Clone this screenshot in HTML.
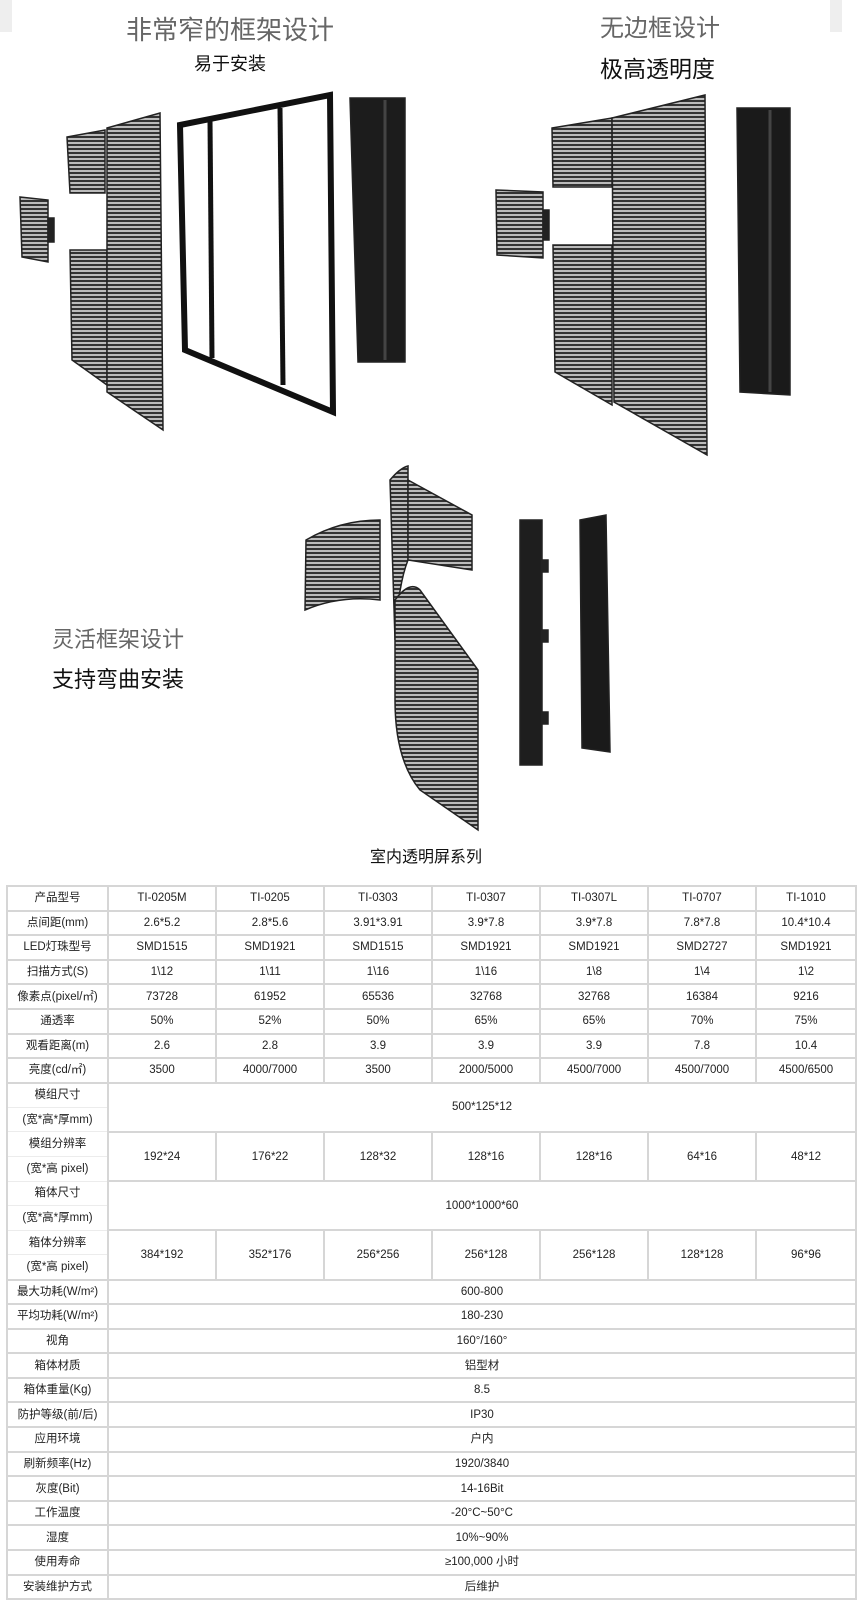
<!DOCTYPE html>
<html><head><meta charset="utf-8"><style>
body{margin:0;width:859px;height:1600px;background:#fff;position:relative;overflow:hidden;font-family:"Liberation Sans","Noto Sans CJK SC",sans-serif;}
.t{position:absolute;white-space:nowrap;}
table{position:absolute;left:6px;top:885px;border-collapse:collapse;table-layout:fixed;width:849px;font-size:11.5px;color:#222;}
tr{height:24.6px}
td{border:2px solid #d6d6d6;height:22.6px;padding:0;text-align:center;line-height:14px;box-sizing:border-box}
td.s{border-top:1px solid #ececec;border-bottom:1px solid #ececec}
</style></head><body>
<div class="t" style="left:0;top:0;width:12px;height:32px;background:#eee"></div>
<div class="t" style="left:830px;top:0;width:12px;height:32px;background:#eee"></div>
<div class="t" style="left:126px;top:10px;font-size:26px;color:#666;">非常窄的框架设计</div>
<div class="t" style="left:194px;top:50px;font-size:18px;color:#111;">易于安装</div>
<div class="t" style="left:600px;top:8px;font-size:24px;color:#666;">无边框设计</div>
<div class="t" style="left:600px;top:50px;font-size:23px;color:#111;">极高透明度</div>
<div class="t" style="left:52px;top:622px;font-size:22px;color:#666;">灵活框架设计</div>
<div class="t" style="left:52px;top:662px;font-size:22px;color:#111;">支持弯曲安装</div>
<div class="t" style="left:370px;top:843px;font-size:16px;color:#111;">室内透明屏系列</div>
<svg class="t" style="left:0;top:0" width="859" height="840">
<defs><pattern id="g" width="6" height="4" patternUnits="userSpaceOnUse"><rect width="6" height="4" fill="#bbb"/><rect width="6" height="2" fill="#333"/></pattern></defs>
<g stroke="#222" stroke-width="1.5">
<polygon points="20,197 48,200 48,262 22,257" fill="url(#g)"/>
<rect x="48" y="218" width="6" height="24" fill="#222"/>
<polygon points="67,137 105,130 105,193 70,193" fill="url(#g)"/>
<polygon points="70,250 107,250 107,385 72,360" fill="url(#g)"/>
<polygon points="107,128 160,113 163,430 107,392" fill="url(#g)"/>
<polygon points="180,125 330,95 333,412 185,350" fill="none" stroke="#111" stroke-width="6"/>
<line x1="210" y1="120" x2="212" y2="358" stroke="#111" stroke-width="5"/>
<line x1="280" y1="108" x2="283" y2="385" stroke="#111" stroke-width="5"/>
<polygon points="350,98 405,98 405,362 358,362" fill="#1c1c1c"/>
<line x1="385" y1="100" x2="385" y2="360" stroke="#444" stroke-width="3"/>
<polygon points="496,190 543,192 543,258 497,255" fill="url(#g)"/>
<rect x="543" y="210" width="6" height="30" fill="#222"/>
<polygon points="552,128 612,118 612,187 553,187" fill="url(#g)"/>
<polygon points="553,245 612,245 612,405 555,372" fill="url(#g)"/>
<polygon points="612,118 705,95 707,455 614,402" fill="url(#g)"/>
<polygon points="737,108 790,108 790,395 740,392" fill="#1a1a1a"/>
<line x1="770" y1="110" x2="770" y2="392" stroke="#444" stroke-width="3"/>
<path d="M306,540 Q340,520 380,520 L380,600 Q340,595 305,610 Z" fill="url(#g)"/>
<path d="M390,480 Q400,468 408,466 L408,560 Q398,585 395,640 Z" fill="url(#g)"/>
<path d="M408,480 L472,515 L472,570 L408,560 Z" fill="url(#g)"/>
<path d="M395,600 Q410,580 420,590 L478,670 L478,830 L420,790 Q395,760 395,700 Z" fill="url(#g)"/>
<rect x="520" y="520" width="22" height="245" fill="#1e1e1e"/>
<rect x="542" y="560" width="6" height="12" fill="#222"/><rect x="542" y="630" width="6" height="12" fill="#222"/><rect x="542" y="712" width="6" height="12" fill="#222"/>
<polygon points="580,520 606,515 610,752 582,748" fill="#1a1a1a"/>
</g></svg>
<table>
<colgroup><col style="width:101px"><col style="width:108px"><col style="width:108px"><col style="width:108px"><col style="width:108px"><col style="width:108px"><col style="width:108px"><col style="width:100px"></colgroup>
<tr><td>产品型号</td><td>TI-0205M</td><td>TI-0205</td><td>TI-0303</td><td>TI-0307</td><td>TI-0307L</td><td>TI-0707</td><td>TI-1010</td></tr>
<tr><td>点间距(mm)</td><td>2.6*5.2</td><td>2.8*5.6</td><td>3.91*3.91</td><td>3.9*7.8</td><td>3.9*7.8</td><td>7.8*7.8</td><td>10.4*10.4</td></tr>
<tr><td>LED灯珠型号</td><td>SMD1515</td><td>SMD1921</td><td>SMD1515</td><td>SMD1921</td><td>SMD1921</td><td>SMD2727</td><td>SMD1921</td></tr>
<tr><td>扫描方式(S)</td><td>1\12</td><td>1\11</td><td>1\16</td><td>1\16</td><td>1\8</td><td>1\4</td><td>1\2</td></tr>
<tr><td>像素点(pixel/㎡)</td><td>73728</td><td>61952</td><td>65536</td><td>32768</td><td>32768</td><td>16384</td><td>9216</td></tr>
<tr><td>通透率</td><td>50%</td><td>52%</td><td>50%</td><td>65%</td><td>65%</td><td>70%</td><td>75%</td></tr>
<tr><td>观看距离(m)</td><td>2.6</td><td>2.8</td><td>3.9</td><td>3.9</td><td>3.9</td><td>7.8</td><td>10.4</td></tr>
<tr><td>亮度(cd/㎡)</td><td>3500</td><td>4000/7000</td><td>3500</td><td>2000/5000</td><td>4500/7000</td><td>4500/7000</td><td>4500/6500</td></tr>
<tr><td class="s">模组尺寸</td><td colspan="7" rowspan="2">500*125*12</td></tr>
<tr><td class="s">(宽*高*厚mm)</td></tr>
<tr><td class="s">模组分辨率</td><td rowspan="2">192*24</td><td rowspan="2">176*22</td><td rowspan="2">128*32</td><td rowspan="2">128*16</td><td rowspan="2">128*16</td><td rowspan="2">64*16</td><td rowspan="2">48*12</td></tr>
<tr><td class="s">(宽*高 pixel)</td></tr>
<tr><td class="s">箱体尺寸</td><td colspan="7" rowspan="2">1000*1000*60</td></tr>
<tr><td class="s">(宽*高*厚mm)</td></tr>
<tr><td class="s">箱体分辨率</td><td rowspan="2">384*192</td><td rowspan="2">352*176</td><td rowspan="2">256*256</td><td rowspan="2">256*128</td><td rowspan="2">256*128</td><td rowspan="2">128*128</td><td rowspan="2">96*96</td></tr>
<tr><td class="s">(宽*高 pixel)</td></tr>
<tr><td>最大功耗(W/m²)</td><td colspan="7">600-800</td></tr>
<tr><td>平均功耗(W/m²)</td><td colspan="7">180-230</td></tr>
<tr><td>视角</td><td colspan="7">160°/160°</td></tr>
<tr><td>箱体材质</td><td colspan="7">铝型材</td></tr>
<tr><td>箱体重量(Kg)</td><td colspan="7">8.5</td></tr>
<tr><td>防护等级(前/后)</td><td colspan="7">IP30</td></tr>
<tr><td>应用环境</td><td colspan="7">户内</td></tr>
<tr><td>刷新频率(Hz)</td><td colspan="7">1920/3840</td></tr>
<tr><td>灰度(Bit)</td><td colspan="7">14-16Bit</td></tr>
<tr><td>工作温度</td><td colspan="7">-20°C~50°C</td></tr>
<tr><td>湿度</td><td colspan="7">10%~90%</td></tr>
<tr><td>使用寿命</td><td colspan="7">≥100,000 小时</td></tr>
<tr><td>安装维护方式</td><td colspan="7">后维护</td></tr>
</table>
</body></html>
